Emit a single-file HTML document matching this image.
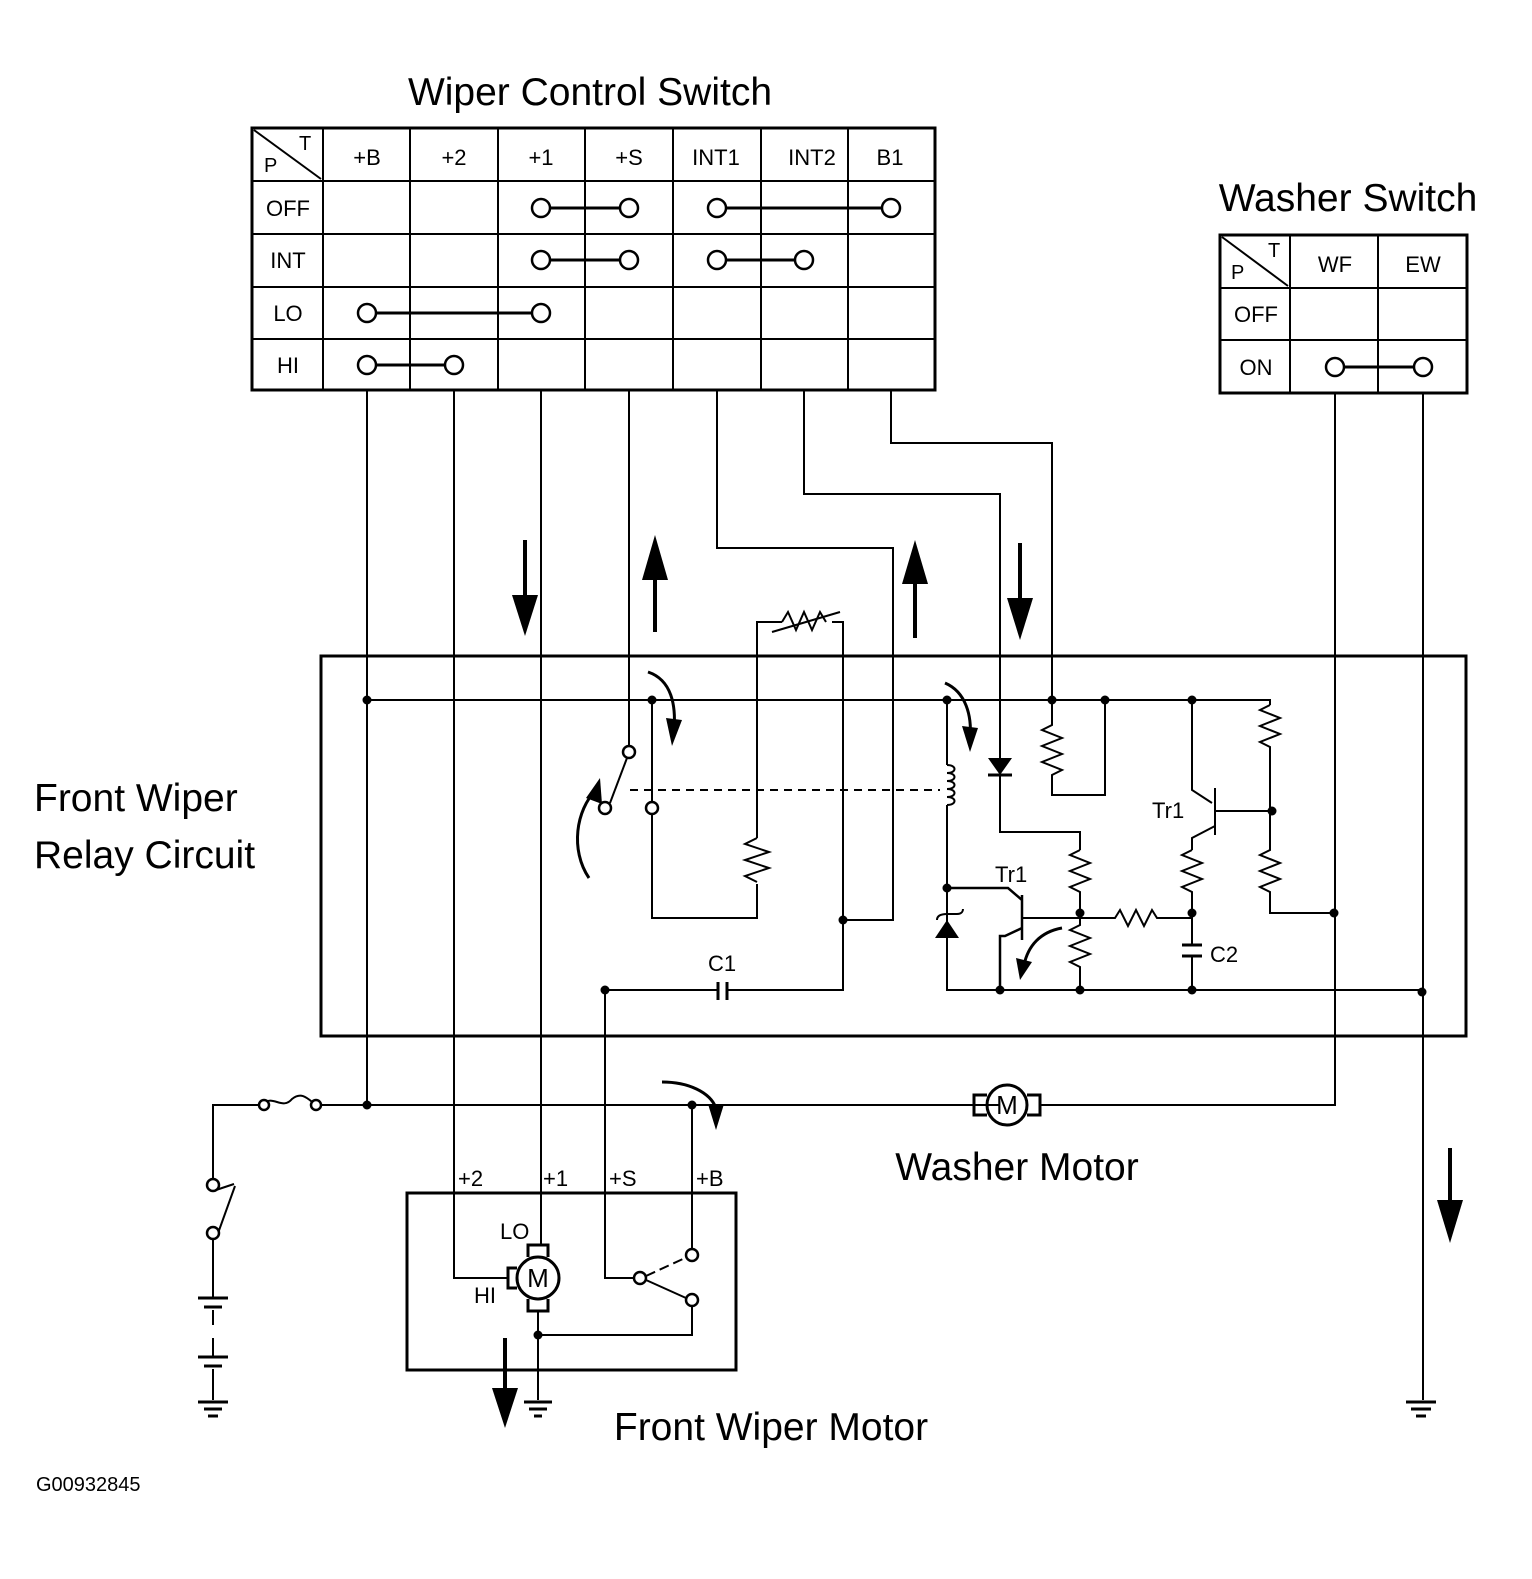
<!DOCTYPE html>
<html><head><style>
html,body{margin:0;padding:0;background:#fff;overflow:hidden;width:1532px;height:1579px;}
svg{display:block;position:absolute;left:0;top:0;}
text{font-family:"Liberation Sans",sans-serif;fill:#000;}
</style></head><body>
<svg width="1532" height="1579" viewBox="0 0 1532 1579" xmlns="http://www.w3.org/2000/svg">
<g fill="none" stroke="#000" stroke-width="2">
<rect x="252" y="128" width="683" height="262" stroke-width="3"/>
<path d="M323 128V390M410 128V390M498 128V390M585 128V390M673 128V390M761 128V390M848 128V390"/>
<path d="M252 181H935M252 234H935M252 287H935M252 339H935"/>
<path d="M254 130L321 179"/>
<rect x="1220" y="235" width="247" height="158" stroke-width="3"/>
<path d="M1290 235V393M1378 235V393M1220 288H1467M1220 340H1467M1222 237L1288 286"/>
<g stroke-width="3">
<path d="M541 208H629M717 208H891M541 260H629M717 260H804M367 313H541M367 365H454M1335 367H1423"/>
</g>
<g fill="#fff" stroke-width="2.5">
<circle cx="541" cy="208" r="9"/><circle cx="629" cy="208" r="9"/><circle cx="717" cy="208" r="9"/><circle cx="891" cy="208" r="9"/>
<circle cx="541" cy="260" r="9"/><circle cx="629" cy="260" r="9"/><circle cx="717" cy="260" r="9"/><circle cx="804" cy="260" r="9"/>
<circle cx="367" cy="313" r="9"/><circle cx="541" cy="313" r="9"/><circle cx="367" cy="365" r="9"/><circle cx="454" cy="365" r="9"/>
<circle cx="1335" cy="367" r="9"/><circle cx="1423" cy="367" r="9"/>
</g>
<rect x="321" y="656" width="1145" height="380" stroke-width="3"/>
<path d="M367 390V1105"/>
<path d="M454 390V1278H508"/>
<path d="M541 390V1245"/>
<path d="M629 390V746"/>
<path d="M717 390V548H893V920H843"/>
<path d="M804 390V494H1000V832H1080V850"/>
<path d="M891 390V443H1052V700"/>
<path d="M1335 393V1105H1040"/>
<path d="M1423 393V1400"/>
<path d="M367 700H1270V705"/>
<path d="M652 700V802M652 814V918H757V884M757 838V622H782M832 622H843V990H727M718 990H605V1278H634"/>
<path d="M757 838l-12 6 24 8-24 8 24 8-24 8 12 6"/>
<path d="M782 622l6-10 8 18 8-18 8 18 8-18 6 10"/>
<path d="M772 632L840 612"/>
<path d="M610 803L627 758"/>
<path d="M630 790H940" stroke-dasharray="8 6"/>
<path d="M947 700V765M947 805V990H1422"/>
<path d="M947 765c10 0 10 8 0 8c10 0 10 8 0 8c10 0 10 8 0 8c10 0 10 8 0 8c10 0 10 8 0 8"/>
<path d="M1000 700V760M1000 775V832"/>
<path d="M1052 700V725l-10 5 20 8-20 8 20 8-20 8 20 8-10 5V795H1105V700"/>
<path d="M1080 850l-10 5 20 8-20 8 20 8-20 8 10 5V913"/>
<path d="M1080 913V925l-10 5 20 8-20 8 20 8-20 8 10 5V990"/>
<path d="M1022 918H1115l5-8 8 16 8-16 8 16 8-16 5 8H1192"/>
<path d="M947 888H1008L1022 900M1022 895V940M1022 928L1005 936H1000V990" stroke-width="2.5"/>
<path d="M937 920c0-5 5-6 10-6h10c5 0 6-3 6-5"/>
<path d="M1192 700V790L1212 803M1215 788V835M1215 811H1272M1215 826L1192 838V850"/>
<path d="M1192 850l-10 5 20 8-20 8 20 8-20 8 10 5V945M1192 956V990"/>
<path d="M1270 705l-10 5 20 8-20 8 20 8-20 8 10 5V850l-10 5 20 8-20 8 20 8-20 8 10 5V913H1334"/>
<path d="M213 1185V1105H260M318 1105H1000"/>
<path d="M262 1105c10-12 20 6 30-6c10-8 16 0 24 6" />
<path d="M692 1105V1249M692 1306V1335H538"/>
<path d="M538 1312V1400"/>
<path d="M646 1276L685 1258" stroke-dasharray="10 5"/>
<path d="M646 1280L686 1298"/>
<path d="M213 1191L234 1184M213 1239V1298M213 1310V1325M213 1338V1357M213 1369V1400"/>
<path d="M217 1236L235 1186"/>
<path d="M198 1298H228M204 1307H222M198 1357H228M204 1366H222" stroke-width="3"/>
<rect x="407" y="1193" width="329" height="177" stroke-width="3"/>
<circle cx="538" cy="1278" r="21" stroke-width="3"/>
<path d="M528 1257V1245H548V1257M528 1299V1311H548V1299M517 1268H508V1288H517" stroke-width="3"/>
<circle cx="1007" cy="1105" r="20" stroke-width="3"/>
<path d="M987 1095H974V1115H987M1027 1095H1040V1115H1027" stroke-width="3"/>
<path d="M198 1402H228M204 1409H222M208 1416H218" stroke-width="3"/>
<path d="M524 1402H552M529 1409H547M534 1416H542" stroke-width="3"/>
<path d="M1406 1402H1436M1411 1409H1431M1416 1416H1426" stroke-width="3"/>
<g stroke-width="3">
<path d="M648 672C672 680 676 706 674 730"/>
<path d="M945 683C966 692 972 716 970 738"/>
<path d="M589 878C570 850 576 810 596 790"/>
<path d="M1062 928C1040 932 1028 946 1024 965"/>
<path d="M662 1082C688 1082 710 1092 716 1108"/>
</g>
<g stroke-width="4">
<path d="M525 540V605M655 565V632M915 570V638M1020 543V610M1450 1148V1215M505 1338V1400"/>
</g>
</g>
<g fill="#000">
<path d="M512 595L538 595L525 636z"/>
<path d="M642 580L668 580L655 535z"/>
<path d="M902 584L928 584L915 540z"/>
<path d="M1007 598L1033 598L1020 640z"/>
<path d="M1437 1200L1463 1200L1450 1243z"/>
<path d="M492 1388L518 1388L505 1428z"/>
<path d="M666 718L682 720L672 746z"/>
<path d="M962 726L978 728L970 752z"/>
<path d="M586 798L600 778L602 804z"/>
<path d="M1016 958L1032 962L1020 980z"/>
<path d="M708 1104L724 1104L716 1130z"/>
<path d="M988 758H1012L1000 775z"/>
<path d="M935 938H959L947 920z"/>
<circle cx="367" cy="700" r="4.5"/><circle cx="652" cy="700" r="4.5"/><circle cx="947" cy="700" r="4.5"/>
<circle cx="1052" cy="700" r="4.5"/><circle cx="1105" cy="700" r="4.5"/><circle cx="1192" cy="700" r="4.5"/>
<circle cx="843" cy="920" r="4.5"/><circle cx="605" cy="990" r="4.5"/><circle cx="947" cy="888" r="4.5"/>
<circle cx="1080" cy="913" r="4.5"/><circle cx="1192" cy="913" r="4.5"/><circle cx="1272" cy="811" r="4.5"/>
<circle cx="1334" cy="913" r="4.5"/><circle cx="1000" cy="990" r="4.5"/><circle cx="1080" cy="990" r="4.5"/>
<circle cx="1192" cy="990" r="4.5"/><circle cx="1422" cy="992" r="4.5"/>
<circle cx="367" cy="1105" r="4.5"/><circle cx="692" cy="1105" r="4.5"/><circle cx="538" cy="1335" r="4.5"/>
</g>
<g fill="none" stroke="#000" stroke-width="3">
<path d="M988 775H1012"/>
<path d="M1182 945H1202M1182 956H1202"/>
<path d="M718 982V1000M727 982V1000"/>
</g>
<g fill="#fff" stroke="#000" stroke-width="2.5">
<circle cx="629" cy="752" r="6"/><circle cx="605" cy="808" r="6"/><circle cx="652" cy="808" r="6"/>
<circle cx="264" cy="1105" r="5"/><circle cx="316" cy="1105" r="5"/>
<circle cx="213" cy="1185" r="6"/><circle cx="213" cy="1233" r="6"/>
<circle cx="692" cy="1255" r="6"/><circle cx="692" cy="1300" r="6"/><circle cx="640" cy="1278" r="6"/>
</g>
<text x="590" y="105" font-size="39" text-anchor="middle">Wiper Control Switch</text>
<text x="1348" y="211" font-size="39" text-anchor="middle">Washer Switch</text>
<text x="34" y="811" font-size="39">Front Wiper</text>
<text x="34" y="868" font-size="39">Relay Circuit</text>
<text x="1017" y="1180" font-size="39" text-anchor="middle">Washer Motor</text>
<text x="771" y="1440" font-size="39" text-anchor="middle">Front Wiper Motor</text>
<text x="36" y="1491" font-size="20">G00932845</text>
<g font-size="22" text-anchor="middle">
<text x="367" y="165">+B</text><text x="454" y="165">+2</text><text x="541" y="165">+1</text><text x="629" y="165">+S</text>
<text x="716" y="165">INT1</text><text x="812" y="165">INT2</text><text x="890" y="165">B1</text>
<text x="288" y="216">OFF</text><text x="288" y="268">INT</text><text x="288" y="321">LO</text><text x="288" y="373">HI</text>
<text x="1335" y="272">WF</text><text x="1423" y="272">EW</text>
<text x="1256" y="322">OFF</text><text x="1256" y="375">ON</text>
</g>
<text x="264" y="172" font-size="20">P</text><text x="299" y="150" font-size="20">T</text>
<text x="1231" y="279" font-size="20">P</text><text x="1268" y="257" font-size="20">T</text>
<g font-size="22">
<text x="458" y="1186">+2</text><text x="543" y="1186">+1</text><text x="609" y="1186">+S</text><text x="696" y="1186">+B</text>
<text x="500" y="1239">LO</text><text x="474" y="1303">HI</text>
<text x="708" y="971">C1</text><text x="1210" y="962">C2</text>
<text x="995" y="882">Tr1</text><text x="1152" y="818">Tr1</text>
</g>
<text x="538" y="1287" font-size="26" text-anchor="middle">M</text>
<text x="1007" y="1114" font-size="26" text-anchor="middle">M</text>
</svg>
</body></html>
